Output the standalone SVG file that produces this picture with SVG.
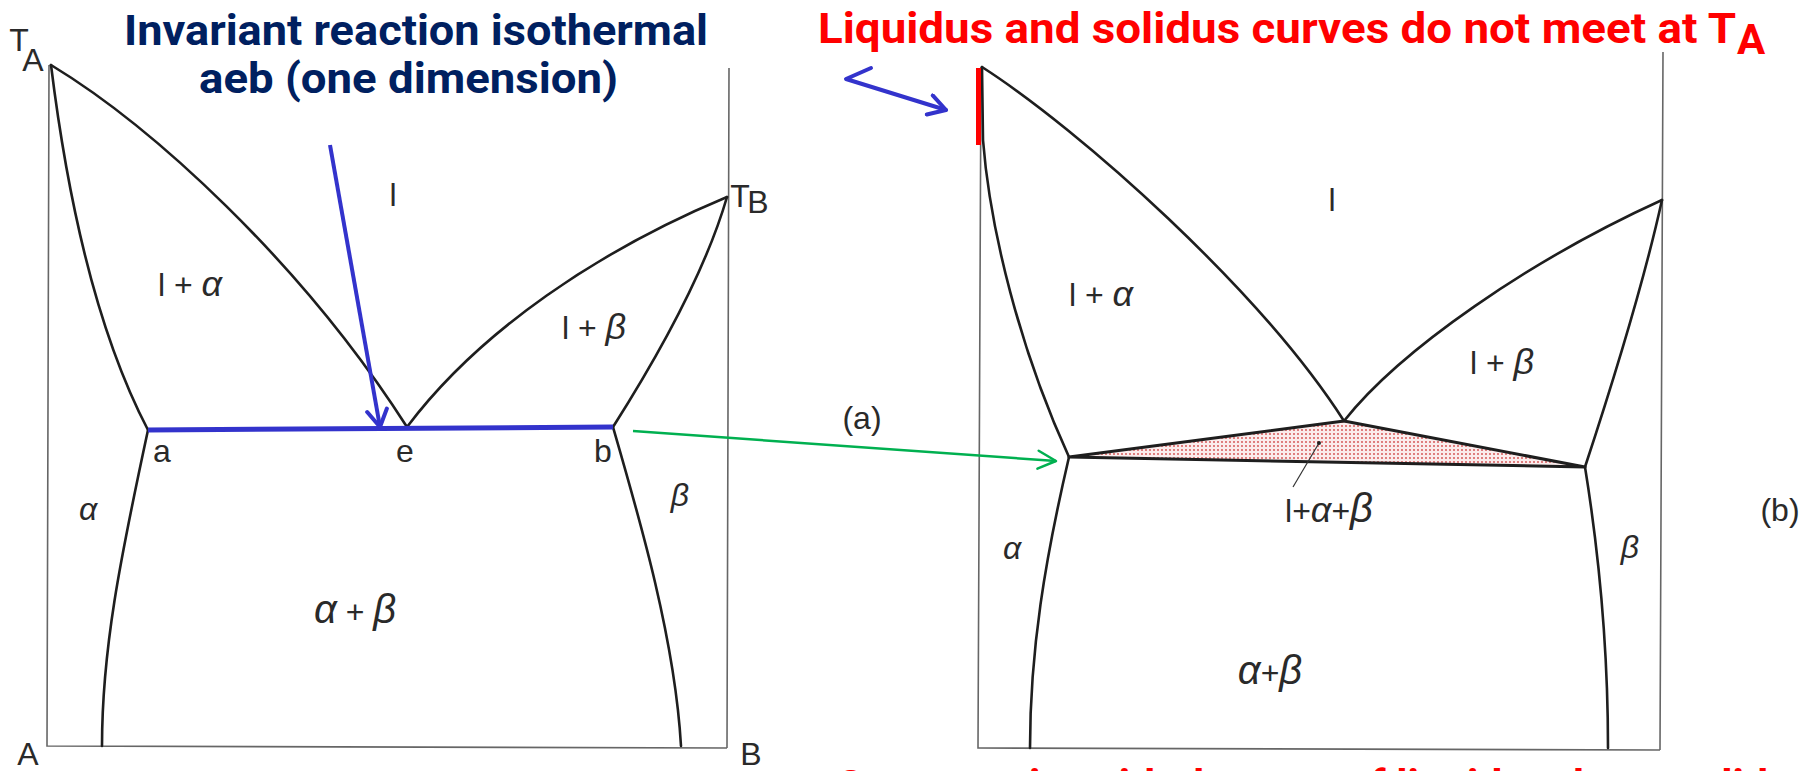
<svg xmlns="http://www.w3.org/2000/svg" width="1818" height="771" viewBox="0 0 1818 771">
<style>
.ax{fill:none;stroke:#666;stroke-width:1.6}
.cv{fill:none;stroke:#1e1e1e;stroke-width:2.6;stroke-linecap:round;stroke-linejoin:round}
.lb{font-family:"Liberation Sans",Arial,sans-serif;font-size:32px;fill:#2a2a2a;text-anchor:middle}
.gk{font-style:italic}
.t1{font-family:Roboto,"Open Sans",sans-serif;font-weight:bold;font-size:42px;fill:#002060}
.t2{font-family:Roboto,"Open Sans",sans-serif;font-weight:bold;font-size:42px;fill:#FF0000}
</style>
<defs>
<marker id="ab" viewBox="0 0 24 24" refX="21" refY="12" markerWidth="24" markerHeight="24" markerUnits="userSpaceOnUse" orient="auto"><path d="M4,2 L21,12 L4,22" fill="none" stroke="#3333CC" stroke-width="4" stroke-linecap="round" stroke-linejoin="round"/></marker>
<marker id="ag" viewBox="0 0 24 24" refX="21" refY="12" markerWidth="24" markerHeight="24" markerUnits="userSpaceOnUse" orient="auto"><path d="M3,3 L21,12 L3,21" fill="none" stroke="#00B050" stroke-width="2.5" stroke-linecap="round" stroke-linejoin="round"/></marker>
<pattern id="dots" width="4" height="4" patternUnits="userSpaceOnUse"><rect width="4" height="4" fill="#fbecec"/><circle cx="2" cy="2" r="0.9" fill="#d24a4a"/></pattern>
</defs>
<rect width="1818" height="771" fill="#ffffff"/>

<g id="diagram-a">
<path class="ax" d="M49,65 L47,746 L727,748 M729,68 L727,748"/>
<path class="cv" d="M51,65 C150,125 300,260 407,427"/>
<path class="cv" d="M51,65 Q80,300 148,430"/>
<path class="cv" d="M148,430 C120,560 102,650 102,746"/>
<path class="cv" d="M407,427 C480,330 600,250 727,197"/>
<path class="cv" d="M727,197 Q700,290 613,427"/>
<path class="cv" d="M613,427 C640,520 675,640 681,746"/>
<line id="isotherm" x1="148" y1="430" x2="613" y2="427" stroke="#3333CC" stroke-width="5"/>
<text class="lb" x="19" y="51" font-size="24">T</text>
<text class="lb" x="33" y="71" font-size="19">A</text>
<text class="lb" x="740" y="207" font-size="26">T</text>
<text class="lb" x="758" y="213" font-size="20">B</text>
<text class="lb" x="28" y="765">A</text>
<text class="lb" x="751" y="765">B</text>
<text class="lb" x="393" y="206">l</text>
<text class="lb" x="190" y="296">l + <tspan class="gk" font-size="36">α</tspan></text>
<text class="lb" x="594" y="339">l + <tspan class="gk" font-size="36">β</tspan></text>
<text class="lb" x="162" y="462" font-size="30">a</text>
<text class="lb" x="405" y="462" font-size="30">e</text>
<text class="lb" x="603" y="462" font-size="30">b</text>
<text class="lb gk" x="88" y="520" font-size="38">α</text>
<text class="lb gk" x="680" y="506" font-size="42">β</text>
<text class="lb" x="355" y="623" font-size="36"><tspan class="gk" font-size="40">α</tspan> + <tspan class="gk" font-size="40">β</tspan></text>
<text class="lb" x="862" y="429" font-size="28">(a)</text>
</g>

<g id="diagram-b">
<path class="ax" d="M981,67 L978,748 L1660,750 M1663,52 L1660,750"/>
<path class="cv" d="M982,67 C1080,130 1260,290 1344,421"/>
<path class="cv" d="M982,67 L983,140 C990,230 1020,350 1069,457"/>
<path class="cv" d="M1069,457 C1045,560 1030,650 1030,748"/>
<path class="cv" d="M1344,421 C1400,350 1530,260 1662,200"/>
<path class="cv" d="M1662,200 Q1640,300 1585,467"/>
<path class="cv" d="M1585,467 C1600,560 1608,650 1608,748"/>
<path id="three-phase" d="M1069,457 L1344,421 L1585,467 Z" fill="url(#dots)" stroke="#1e1e1e" stroke-width="3" stroke-linejoin="round"/>
<line x1="1319" y1="443" x2="1293" y2="487" stroke="#333" stroke-width="1.2"/>
<circle cx="1319" cy="443" r="2" fill="#222"/>
<text class="lb" x="1332" y="211">l</text>
<text class="lb" x="1101" y="306">l + <tspan class="gk" font-size="36">α</tspan></text>
<text class="lb" x="1502" y="374">l + <tspan class="gk" font-size="36">β</tspan></text>
<text class="lb" x="1329" y="522">l+<tspan class="gk" font-size="36">α</tspan>+<tspan class="gk" font-size="40">β</tspan></text>
<text class="lb gk" x="1012" y="559" font-size="38">α</text>
<text class="lb gk" x="1630" y="558" font-size="42">β</text>
<text class="lb" x="1270" y="684" font-size="34"><tspan class="gk" font-size="40">α</tspan>+<tspan class="gk" font-size="40">β</tspan></text>
<text class="lb" x="1780" y="521" font-size="28">(b)</text>
<rect id="red-bar" x="976" y="68" width="5" height="77" fill="#FF0000"/>
</g>

<g id="connectors">
<line x1="330" y1="145" x2="380" y2="427" stroke="#3333CC" stroke-width="4" marker-end="url(#ab)"/>
<path d="M871,68 L846,79 L946,110" fill="none" stroke="#3333CC" stroke-width="4" stroke-linejoin="round" stroke-linecap="round" marker-end="url(#ab)"/>
<line x1="633" y1="431" x2="1056" y2="461" stroke="#00B050" stroke-width="2.5" marker-end="url(#ag)"/>
</g>

<g id="titles">
<text class="t1" x="124" y="45" textLength="584" lengthAdjust="spacingAndGlyphs">Invariant reaction isothermal</text>
<text class="t1" x="199" y="93" textLength="419" lengthAdjust="spacingAndGlyphs">aeb (one dimension)</text>
<text class="t2" x="818" y="43" textLength="918" lengthAdjust="spacingAndGlyphs">Liquidus and solidus curves do not meet at T</text>
<text class="t2" x="1737" y="54" font-size="28">A</text>
<text class="t2" x="836" y="800" textLength="954" lengthAdjust="spacingAndGlyphs">Cannot exist with the area of liquid and two solids</text>
</g>
</svg>
